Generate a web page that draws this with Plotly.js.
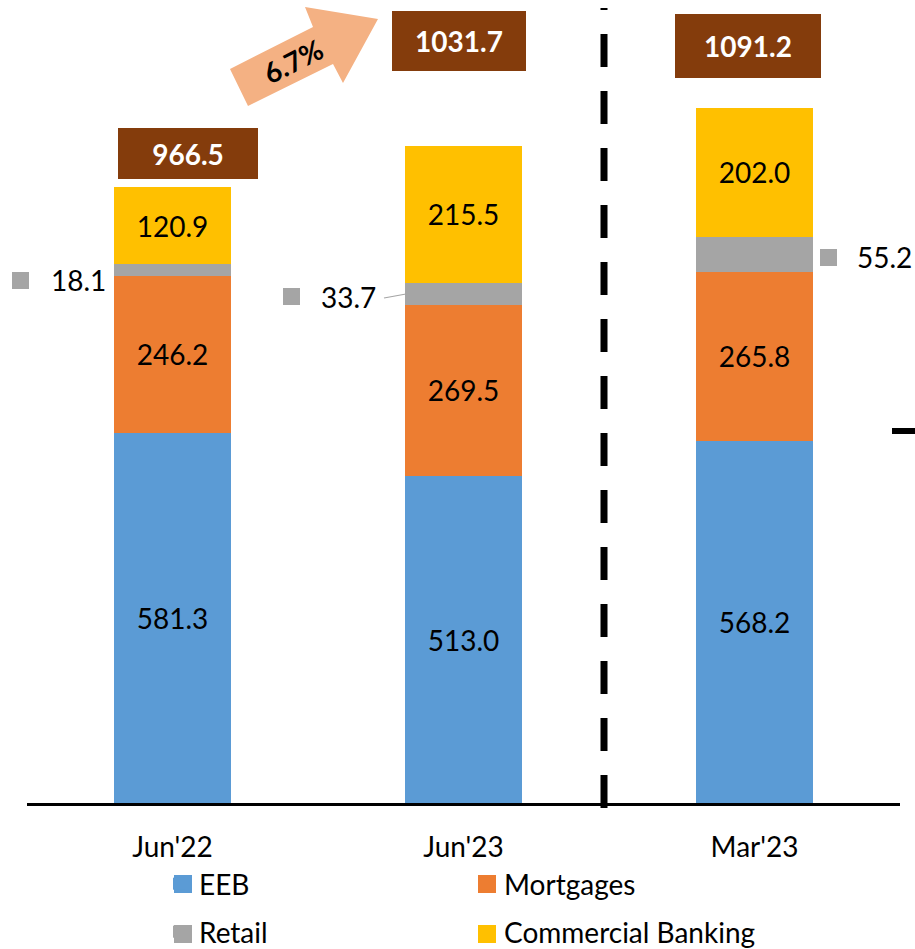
<!DOCTYPE html>
<html>
<head>
<meta charset="utf-8">
<script src="https://cdn.plot.ly/plotly-3.0.1.min.js"></script>
<style>html,body{margin:0;padding:0;background:#fff;}#chart{width:915px;height:949px;}</style>
</head>
<body>
<div id="chart"></div>
<script>
// ---- Data ----
const categories = ["Jun'22", "Jun'23", "Mar'23"];
const eeb = [581.3, 513.0, 568.2];
const mortgages = [246.2, 269.5, 265.8];
const retail = [18.1, 33.7, 55.2];
const commercial = [120.9, 215.5, 202.0];
const totals = [966.5, 1031.7, 1091.2];
const growthLabel = "6.7%";

// ---- Layout geometry ----
const W = 915, Hh = 949;
const M = {l: 27, r: 15, t: 10, b: 146, autoexpand: false};
const PW = W - M.l - M.r, PH = Hh - M.t - M.b;
const px = X => (X - M.l) / PW;
const py = Y => (M.t + PH - Y) / PH;

const FONT = "Lato, 'Open Sans', sans-serif";
const FS = 28;
const colors = {eeb: "#5B9BD5", mort: "#ED7D31", retail: "#A5A5A5", comm: "#FFC000", total: "#843C0C"};

function barTrace(name, vals, color, showText, legend) {
  return {
    type: "bar", name: name, x: categories, y: vals,
    marker: {color: color, line: {width: 0}},
    text: vals.map(v => v.toFixed(1)),
    textposition: showText ? "inside" : "none",
    insidetextanchor: "middle",
    textfont: {family: FONT, size: FS, color: "#000"},
    hoverinfo: "skip",
    legend: legend
  };
}

const data = [
  barTrace("EEB", eeb, colors.eeb, true, "legend"),
  barTrace("Mortgages", mortgages, colors.mort, true, "legend"),
  barTrace("Retail", retail, colors.retail, false, "legend2"),
  barTrace("Commercial Banking", commercial, colors.comm, true, "legend2")
];

// Total boxes
const totalStyle = [
  {xs: 15, ys: 8, w: 140, h: 51},
  {xs: -5, ys: 75, w: 134, h: 60},
  {xs: -7, ys: 30, w: 146, h: 64}
];
const annotations = [];
categories.forEach((c, i) => {
  const s = totalStyle[i];
  annotations.push({
    x: c, y: totals[i], xref: "x", yref: "y",
    text: "<b>" + totals[i].toFixed(1) + "</b>",
    showarrow: false, xanchor: "center", yanchor: "bottom",
    xshift: s.xs, yshift: s.ys, width: s.w, height: s.h,
    bgcolor: colors.total, borderwidth: 0, borderpad: 0,
    font: {family: FONT, size: FS, color: "#fff"}
  });
});

// Retail outside labels
const retailStyle = [
  {sq: -152.5, num: -67, anchor: "right", ys: -10},
  {sq: -172.5, num: -88, anchor: "right", ys: -3},
  {sq: 74, num: 102, anchor: "left", ys: -3}
];
categories.forEach((c, i) => {
  const s = retailStyle[i];
  const yv = eeb[i] + mortgages[i] + retail[i] / 2;
  annotations.push({
    x: c, y: yv, xref: "x", yref: "y", text: " ", showarrow: false,
    xanchor: "center", yanchor: "middle", xshift: s.sq, yshift: s.ys,
    width: 17, height: 17, bgcolor: colors.retail, borderwidth: 0, borderpad: 0,
    font: {size: 4}
  });
  annotations.push({
    x: c, y: yv, xref: "x", yref: "y", text: retail[i].toFixed(1), showarrow: false,
    xanchor: s.anchor, yanchor: "middle", xshift: s.num, yshift: s.ys,
    borderpad: 0, borderwidth: 0,
    font: {family: FONT, size: FS, color: "#000"}
  });
});

// Growth arrow text
annotations.push({
  x: px(293), y: py(61), xref: "paper", yref: "paper",
  text: "<b>" + growthLabel + "</b>", showarrow: false, textangle: -27,
  xanchor: "center", yanchor: "middle",
  font: {family: FONT, size: FS, color: "#000"}
});

const arrowPts = [[230,69],[313,27],[305,7],[378,19],[343,83],[333,64],[248,106]];
const arrowPath = "M " + arrowPts.map(p => px(p[0]).toFixed(5) + "," + py(p[1]).toFixed(5)).join(" L ") + " Z";

// enlarged legend swatches (drawn beneath the legend's own symbols)
const swatches = [
  {x: 174, y: 875, c: colors.eeb}, {x: 478, y: 875, c: colors.mort},
  {x: 174, y: 925, c: colors.retail}, {x: 478, y: 925, c: colors.comm}
];

const shapes = [
  {type: "path", xref: "paper", yref: "paper", path: arrowPath,
   fillcolor: "#F4B183", line: {width: 0}},
  {type: "line", xref: "paper", yref: "paper", x0: px(604), x1: px(604), y0: py(808), y1: py(8),
   line: {color: "#000", width: 7, dash: "33px,24px"}},
  {type: "line", xref: "paper", yref: "paper", x0: px(892), x1: px(915), y0: py(431), y1: py(431),
   line: {color: "#000", width: 6}},
  {type: "line", xref: "paper", yref: "paper", x0: px(384), x1: px(406), y0: py(298), y1: py(294),
   line: {color: "#A5A5A5", width: 1.2}}
].concat(swatches.map(s => ({
  type: "rect", xref: "paper", yref: "paper",
  x0: px(s.x), x1: px(s.x + 18), y0: py(s.y + 18), y1: py(s.y),
  fillcolor: s.c, line: {width: 0}
})));

const layout = {
  width: W, height: Hh,
  margin: M,
  paper_bgcolor: "#fff", plot_bgcolor: "#fff",
  barmode: "stack", bargap: 0.6,
  font: {family: FONT, color: "#000"},
  xaxis: {
    type: "category", range: [-0.5, 2.5], autorange: false,
    showline: true, linecolor: "#000", linewidth: 3,
    ticks: "", tickfont: {family: FONT, size: FS, color: "#000"},
    ticklabelstandoff: 17, showgrid: false, zeroline: false, fixedrange: true
  },
  yaxis: {range: [0, 1245], autorange: false, visible: false, showgrid: false, zeroline: false, fixedrange: true},
  showlegend: true,
  legend: {orientation: "h", x: px(159), xanchor: "left", y: py(884), yanchor: "middle",
           entrywidth: 260, entrywidthmode: "pixels", traceorder: "normal",
           font: {family: FONT, size: FS, color: "#000"}, bgcolor: "rgba(0,0,0,0)"},
  legend2: {orientation: "h", x: px(159), xanchor: "left", y: py(932), yanchor: "middle",
           entrywidth: 260, entrywidthmode: "pixels", traceorder: "normal",
           font: {family: FONT, size: FS, color: "#000"}, bgcolor: "rgba(0,0,0,0)"},
  annotations: annotations,
  shapes: shapes
};

Plotly.newPlot("chart", data, layout, {displayModeBar: false, staticPlot: true});
</script>
</body>
</html>
